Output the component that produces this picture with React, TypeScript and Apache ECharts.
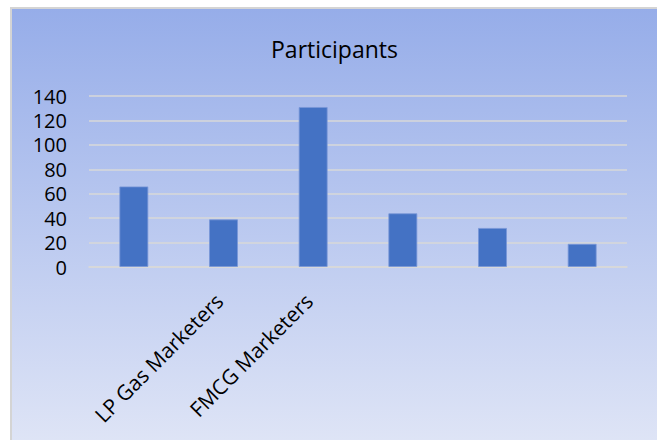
import React, { useEffect, useRef } from "react";
import * as echarts from "echarts";

const categories = ["", "LP Gas Marketers", "FMCG Marketers", "", "", ""];
const participants = [66, 39, 131, 44, 32, 19];
const yMin = 0;
const yMax = 140;
const yStep = 20;
const titleText = "Participants";

export default function App() {
  const ref = useRef<HTMLDivElement>(null);
  useEffect(() => {
    if (!ref.current) return;
    const chart = echarts.init(ref.current, null, { renderer: "svg" });
    chart.setOption({
      animation: false,
      backgroundColor: {
        type: "linear",
        x: 0,
        y: 0,
        x2: 0,
        y2: 1,
        colorStops: [
          { offset: 0, color: "#96ade9" },
          { offset: 1, color: "#dee4f6" },
        ],
      },
      title: {
        text: titleText,
        left: "center",
        top: 23,
        textStyle: {
          fontFamily: "Open Sans",
          fontSize: 23,
          fontWeight: "normal",
          color: "#000",
        },
      },
      grid: { left: 77, right: 30, top: 87, bottom: 173, containLabel: false },
      xAxis: {
        type: "category",
        data: categories,
        axisLine: { lineStyle: { color: "#d9d9d9", width: 1.5 } },
        axisTick: { show: false },
        axisLabel: {
          interval: 0,
          rotate: 45,
          margin: 26,
          padding: [0, 6, 0, 0],
          fontFamily: "Open Sans",
          fontSize: 21,
          color: "#000",
        },
      },
      yAxis: {
        type: "value",
        min: yMin,
        max: yMax,
        interval: yStep,
        axisLine: { show: false },
        axisTick: { show: false },
        splitLine: { lineStyle: { color: "#d9d9d9", width: 1.5 } },
        axisLabel: {
          margin: 22,
          fontFamily: "Open Sans",
          fontSize: 20,
          lineHeight: 20,
          color: "#000",
        },
      },
      series: [
        {
          type: "bar",
          data: participants,
          barWidth: 29,
          itemStyle: { color: "#4472c4", borderColor: "rgba(120,150,215,0.8)", borderWidth: 1 },
        },
      ],
    });
    return () => chart.dispose();
  }, []);
  return (
    <div style={{ position: "fixed", left: 0, top: 0, width: 657, height: 440, background: "#fff", overflow: "hidden" }}>
      <div style={{ position: "absolute", left: 10, top: 7, border: "2px solid #d4d4d4", width: 645, height: 433 }}>
        <div ref={ref} style={{ width: 645, height: 431 }} />
      </div>
    </div>
  );
}
